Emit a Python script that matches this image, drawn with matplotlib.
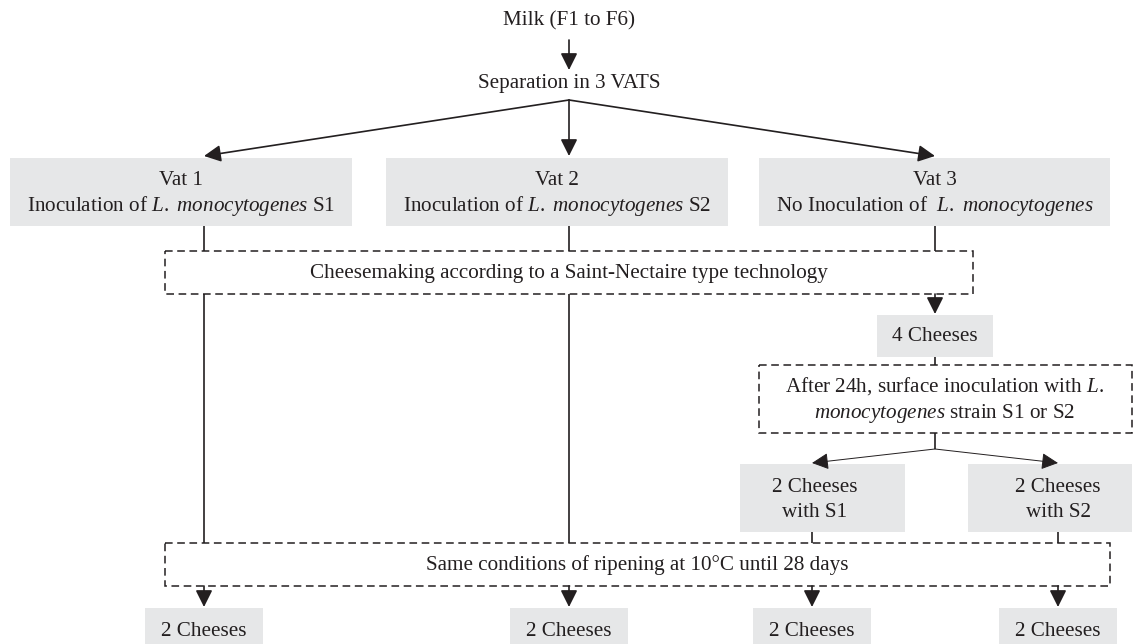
import matplotlib
matplotlib.use("Agg")
import matplotlib.pyplot as plt
import matplotlib.patches as mp

plt.rcParams['font.family'] = ['Liberation Serif', 'DejaVu Serif']
plt.rcParams['mathtext.fontset'] = 'custom'
plt.rcParams['mathtext.rm'] = 'Liberation Serif'
plt.rcParams['mathtext.it'] = 'Liberation Serif:italic'

INK = '#231f20'
GREY = '#e6e7e8'
FS = 15.2

# node texts
top_labels = ['Milk (F1 to F6)', 'Separation in 3 VATS']
vat_titles = ['Vat 1', 'Vat 2', 'Vat 3']
vat_lines = [r'Inoculation of $\mathit{L.}$ $\mathit{monocytogenes}$ S1',
             r'Inoculation of $\mathit{L.}$ $\mathit{monocytogenes}$ S2',
             r'No Inoculation of  $\mathit{L.}$ $\mathit{monocytogenes}$']
step_labels = ['Cheesemaking according to a Saint-Nectaire type technology',
               'Same conditions of ripening at 10°C until 28 days']
vat3_labels = ['4 Cheeses',
               'After 24h, surface inoculation with $\\mathit{L.}$\n'
               '$\\mathit{monocytogenes}$ strain S1 or S2']
split_labels = ['2 Cheeses\nwith S1', '2 Cheeses\nwith S2']
final_labels = ['2 Cheeses', '2 Cheeses', '2 Cheeses', '2 Cheeses']

fig = plt.figure(figsize=(11.35, 6.44), dpi=100)
ax = fig.add_axes([0, 0, 1, 1])
ax.set_xlim(0, 1135)
ax.set_ylim(644, 0)
ax.axis('off')


def grey_box(x0, y0, x1, y1):
    ax.add_patch(mp.Rectangle((x0, y0), x1 - x0, y1 - y0, facecolor=GREY,
                              edgecolor='none', zorder=1))


def dash_box(x0, y0, x1, y1):
    ax.add_patch(mp.Rectangle((x0, y0), x1 - x0, y1 - y0, facecolor='none',
                              edgecolor=INK, lw=1.1, ls=(0, (5, 3)), zorder=2))


def line(x0, y0, x1, y1, lw=1.2):
    ax.plot([x0, x1], [y0, y1], color=INK, lw=lw, zorder=3,
            solid_capstyle='butt')


def arrow(x0, y0, x1, y1, lw=1.2, ms=17):
    ax.annotate('', xy=(x1, y1), xytext=(x0, y0),
                arrowprops=dict(arrowstyle='-|>,head_length=0.6,head_width=0.3',
                                color=INK, lw=lw, mutation_scale=ms,
                                shrinkA=0, shrinkB=0), zorder=4)


def label(x, y, s, ls=1.2):
    ax.text(x, y, s, ha='center', va='center', fontsize=FS, color=INK,
            linespacing=ls, zorder=5)


# top
label(569, 21, top_labels[0])
arrow(569, 40, 569, 70)
label(569, 83, top_labels[1])

cols = [204, 569, 935]
vat_boxes = [(10, 352), (386, 728), (759, 1110)]
for cx, (x0, x1), t, s in zip(cols, vat_boxes, vat_titles, vat_lines):
    arrow(569, 100, cx, 156)
    grey_box(x0, 158, x1, 226)
    label((x0 + x1) / 2, 180, t)
    label((x0 + x1) / 2, 206, s)
    line(cx, 226, cx, 251)

# cheesemaking
dash_box(165, 251, 973, 294)
label(569, 273, step_labels[0])
line(204, 294, 204, 543)
line(569, 294, 569, 543)

# vat 3 branch
arrow(935, 294, 935, 314)
grey_box(877, 315, 993, 357)
label(935, 336, vat3_labels[0])
line(935, 357, 935, 365)
dash_box(759, 365, 1132, 433)
label(945, 400, vat3_labels[1], ls=1.35)
line(935, 433, 935, 449)
split_x = [812, 1058]
split_boxes = [(740, 905), (968, 1132)]
split_tx = [815, 1058]
for cx, (x0, x1), tx, s in zip(split_x, split_boxes, split_tx, split_labels):
    arrow(935, 449, cx, 463, lw=0.7)
    grey_box(x0, 464, x1, 532)
    label(tx, 500, s, ls=1.4)
    line(cx, 532, cx, 543)

# ripening
dash_box(165, 543, 1110, 586)
label(637, 565, step_labels[1])

final_x = [204, 569, 812, 1058]
for cx, s in zip(final_x, final_labels):
    arrow(cx, 586, cx, 607)
    grey_box(cx - 59, 608, cx + 59, 650)
    label(cx, 631, s)

fig.savefig('out.png', dpi=100)
